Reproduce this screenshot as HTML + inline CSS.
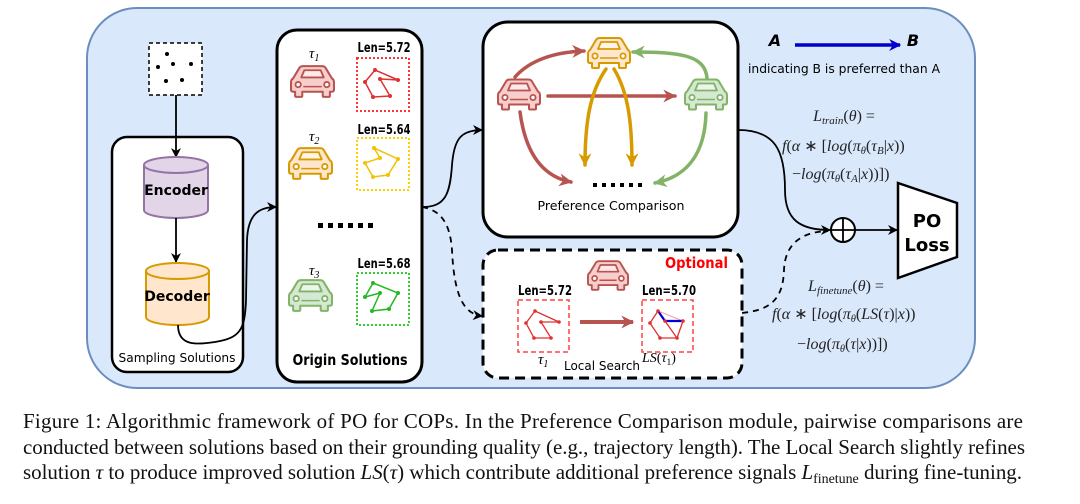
<!DOCTYPE html>
<html><head><meta charset="utf-8"><style>
html,body{margin:0;padding:0;background:#fff;}
svg{display:block;}
.lab{font-family:"DejaVu Sans","Liberation Sans",sans-serif;}
.m{font-family:"Liberation Serif",serif;font-style:italic;}
</style></head><body>
<svg width="1080" height="504" viewBox="0 0 1080 504" xmlns="http://www.w3.org/2000/svg">
<defs>
<marker id="ak" viewBox="0 0 10 10" refX="9" refY="5" markerWidth="10" markerHeight="10" markerUnits="userSpaceOnUse" orient="auto"><path d="M0,0 L10,5 L0,10 L3,5 z" fill="#000"/></marker>
<marker id="ar" viewBox="0 0 10 10" refX="9" refY="5" markerWidth="13" markerHeight="13" markerUnits="userSpaceOnUse" orient="auto"><path d="M0,0 L10,5 L0,10 L3,5 z" fill="#b85450"/></marker>
<marker id="ay" viewBox="0 0 10 10" refX="9" refY="5" markerWidth="13" markerHeight="13" markerUnits="userSpaceOnUse" orient="auto"><path d="M0,0 L10,5 L0,10 L3,5 z" fill="#d79b00"/></marker>
<marker id="ag" viewBox="0 0 10 10" refX="9" refY="5" markerWidth="13" markerHeight="13" markerUnits="userSpaceOnUse" orient="auto"><path d="M0,0 L10,5 L0,10 L3,5 z" fill="#82b366"/></marker>
<marker id="abl" viewBox="0 0 10 10" refX="9" refY="5" markerWidth="12" markerHeight="12" markerUnits="userSpaceOnUse" orient="auto"><path d="M0,0 L10,5 L0,10 L3,5 z" fill="#0000cc"/></marker>
<symbol id="car" viewBox="0 0 44 32">
<path d="M3,13 L9,3 Q10,1 13,1 L31,1 Q34,1 35,3 L41,13 Q43,14 43,17 L43,24 Q43,26 41,26 L39,26 L39,30 Q39,31 38,31 L33,31 Q32,31 32,30 L32,26 L12,26 L12,30 Q12,31 11,31 L6,31 Q5,31 5,30 L5,26 L3,26 Q1,26 1,24 L1,17 Q1,14 3,13 Z" stroke-width="2" stroke-linejoin="round"/>
<path d="M11,12 L14,5 L30,5 L33,12 Z" fill="#fff" fill-opacity="0.55" stroke-width="1.8" stroke-linejoin="round"/>
<circle cx="8" cy="19" r="2.6" fill="#fff" stroke-width="1.8"/>
<circle cx="36" cy="19" r="2.6" fill="#fff" stroke-width="1.8"/>
<path d="M13,21 L31,21" stroke-width="1.5" fill="none"/>
</symbol>
</defs>

<!-- outer -->
<rect x="87" y="8" width="888" height="380" rx="50" fill="#dae8fc" stroke="#6c8ebf" stroke-width="2"/>

<!-- input -->
<rect x="149" y="43" width="53" height="52" fill="#fff" stroke="#000" stroke-width="1.5" stroke-dasharray="4,3"/>
<g fill="#000"><circle cx="167" cy="54" r="2"/><circle cx="158" cy="67" r="2"/><circle cx="173" cy="64" r="2"/><circle cx="191" cy="64" r="2"/><circle cx="166" cy="81" r="2"/><circle cx="182" cy="80" r="2"/></g>

<!-- sampling box -->
<rect x="112" y="137" width="131" height="235" rx="15" fill="#fff" stroke="#000" stroke-width="2.5"/>
<path d="M176,95 L176,157" stroke="#000" stroke-width="1.8" fill="none" marker-end="url(#ak)"/>
<path d="M144,165 A32,8 0 0 1 208,165 L208,210 A32,8 0 0 1 144,210 Z" fill="#e1d5e7" stroke="#9673a6" stroke-width="2"/>
<path d="M144,165 A32,8 0 0 0 208,165" fill="none" stroke="#9673a6" stroke-width="2"/>
<text x="176" y="195" text-anchor="middle" class="lab" font-size="14" font-weight="bold">Encoder</text>
<path d="M176,218 L176,262" stroke="#000" stroke-width="1.8" fill="none" marker-end="url(#ak)"/>
<path d="M146,271 A31.5,8 0 0 1 209,271 L209,317 A31.5,8 0 0 1 146,317 Z" fill="#ffe6cc" stroke="#d79b00" stroke-width="2"/>
<path d="M146,271 A31.5,8 0 0 0 209,271" fill="none" stroke="#d79b00" stroke-width="2"/>
<text x="177" y="301" text-anchor="middle" class="lab" font-size="14" font-weight="bold">Decoder</text>
<path d="M178,325 C178,346 196,345 215,342 C240,338 245,330 246,300 L247,240 C248,215 258,207 276,207" stroke="#000" stroke-width="1.8" fill="none" marker-end="url(#ak)"/>
<text x="177" y="362" text-anchor="middle" class="lab" font-size="12.5" textLength="117" lengthAdjust="spacingAndGlyphs">Sampling Solutions</text>

<!-- origin solutions -->
<rect x="277" y="30" width="145" height="352" rx="20" fill="#fff" stroke="#000" stroke-width="3"/>
<use href="#car" x="290" y="65" width="45" height="33" fill="#f8cecc" stroke="#b85450"/>
<use href="#car" x="288" y="147" width="45" height="33" fill="#ffe6cc" stroke="#d79b00"/>
<use href="#car" x="288" y="279" width="45" height="33" fill="#d5e8d4" stroke="#82b366"/>
<text x="309" y="58" class="m" font-size="15">τ<tspan font-size="10" dy="3">1</tspan></text>
<text x="309" y="141" class="m" font-size="15">τ<tspan font-size="10" dy="3">2</tspan></text>
<text x="309" y="275" class="m" font-size="15">τ<tspan font-size="10" dy="3">3</tspan></text>
<g class="lab" font-size="13" font-weight="bold" text-anchor="middle">
<text x="384" y="52" textLength="53" lengthAdjust="spacingAndGlyphs">Len=5.72</text>
<text x="384" y="134" textLength="53" lengthAdjust="spacingAndGlyphs">Len=5.64</text>
<text x="384" y="268" textLength="53" lengthAdjust="spacingAndGlyphs">Len=5.68</text>
</g>
<rect x="357" y="58" width="52" height="53" fill="none" stroke="#ff3333" stroke-width="2" stroke-dasharray="2,2"/>
<polygon points="375,70 398,80 380,79 390,96 373,97 365,82" fill="none" stroke="#e03030" stroke-width="1.5"/>
<g fill="#e03030"><circle cx="375" cy="70" r="2"/><circle cx="398" cy="80" r="2"/><circle cx="380" cy="79" r="2"/><circle cx="390" cy="96" r="2"/><circle cx="373" cy="97" r="2"/><circle cx="365" cy="82" r="2"/></g>
<rect x="357" y="138" width="52" height="52" fill="none" stroke="#ffd000" stroke-width="2" stroke-dasharray="2,2"/>
<polygon points="374,148 380,158 365,163 373,177 388,175 398,159" fill="none" stroke="#f2c200" stroke-width="1.5"/>
<g fill="#f2c200"><circle cx="374" cy="148" r="2"/><circle cx="380" cy="158" r="2"/><circle cx="365" cy="163" r="2"/><circle cx="373" cy="177" r="2"/><circle cx="388" cy="175" r="2"/><circle cx="398" cy="159" r="2"/></g>
<rect x="357" y="273" width="52" height="52" fill="none" stroke="#33cc33" stroke-width="2" stroke-dasharray="2,2"/>
<polygon points="373,283 398,293 389,309 372,311 380,293 365,297" fill="none" stroke="#22b822" stroke-width="1.5"/>
<g fill="#22b822"><circle cx="373" cy="283" r="2"/><circle cx="398" cy="293" r="2"/><circle cx="389" cy="309" r="2"/><circle cx="372" cy="311" r="2"/><circle cx="380" cy="293" r="2"/><circle cx="365" cy="297" r="2"/></g>
<g fill="#000"><rect x="318" y="223" width="5" height="5"/><rect x="328" y="223" width="5" height="5"/><rect x="338" y="223" width="5" height="5"/><rect x="348" y="223" width="5" height="5"/><rect x="358" y="223" width="5" height="5"/><rect x="368" y="223" width="5" height="5"/></g>
<text x="350" y="365" text-anchor="middle" class="lab" font-size="15" font-weight="bold" textLength="115" lengthAdjust="spacingAndGlyphs">Origin Solutions</text>

<!-- connectors from origin -->
<path d="M422,207 C445,207 450,195 452,165 C454,140 460,130 482,130" stroke="#000" stroke-width="1.8" fill="none" marker-end="url(#ak)"/>
<path d="M422,207 C440,210 450,222 452,250 C454,292 462,314 482,316" stroke="#000" stroke-width="1.8" fill="none" stroke-dasharray="6,5" marker-end="url(#ak)"/>

<!-- preference comparison -->
<rect x="483" y="22" width="255" height="215" rx="25" fill="#fff" stroke="#000" stroke-width="3"/>
<g fill="none" stroke-width="3.5" stroke-linecap="round">
<path d="M515,77 C530,60 555,52 584,51" stroke="#b85450" marker-end="url(#ar)"/>
<path d="M548,96 L675,96" stroke="#b85450" marker-end="url(#ar)"/>
<path d="M520,112 C525,150 540,176 571,182" stroke="#b85450" marker-end="url(#ar)"/>
<path d="M606,69 C590,92 585,122 585,165" stroke="#d79b00" marker-end="url(#ay)"/>
<path d="M614,69 C628,92 632,122 632,165" stroke="#d79b00" marker-end="url(#ay)"/>
<path d="M707,78 C705,55 680,52 633,52" stroke="#82b366" marker-end="url(#ag)"/>
<path d="M706,113 C705,150 690,176 655,183" stroke="#82b366" marker-end="url(#ag)"/>
</g>
<use href="#car" x="497" y="78" width="44" height="33" fill="#f8cecc" stroke="#b85450"/>
<use href="#car" x="587" y="37" width="44" height="32" fill="#ffe6cc" stroke="#d79b00"/>
<use href="#car" x="684" y="78" width="44" height="33" fill="#d5e8d4" stroke="#82b366"/>
<g fill="#000"><rect x="593" y="183" width="4" height="4"/><rect x="602" y="183" width="4" height="4"/><rect x="611" y="183" width="4" height="4"/><rect x="620" y="183" width="4" height="4"/><rect x="629" y="183" width="4" height="4"/><rect x="638" y="183" width="4" height="4"/></g>
<text x="611" y="210" text-anchor="middle" class="lab" font-size="12" textLength="147" lengthAdjust="spacingAndGlyphs">Preference Comparison</text>

<!-- optional box -->
<rect x="483" y="250" width="259" height="128" rx="15" fill="#fff" stroke="#000" stroke-width="3" stroke-dasharray="10,6"/>
<text x="728" y="268" text-anchor="end" class="lab" font-size="15" font-weight="bold" fill="#ff0000" textLength="63" lengthAdjust="spacingAndGlyphs">Optional</text>
<use href="#car" x="587" y="260" width="42" height="31" fill="#f8cecc" stroke="#b85450"/>
<g class="lab" font-size="13" font-weight="bold" text-anchor="middle">
<text x="545" y="295" textLength="54" lengthAdjust="spacingAndGlyphs">Len=5.72</text>
<text x="669" y="295" textLength="54" lengthAdjust="spacingAndGlyphs">Len=5.70</text>
</g>
<rect x="518" y="300" width="51" height="52" fill="none" stroke="#ff4444" stroke-width="1.5" stroke-dasharray="5,3"/>
<polygon points="535,311 559,322 541,322 551,338 534,338 526,323" fill="none" stroke="#e03030" stroke-width="1.3"/>
<g fill="#e03030"><circle cx="535" cy="311" r="1.8"/><circle cx="559" cy="322" r="1.8"/><circle cx="541" cy="322" r="1.8"/><circle cx="551" cy="338" r="1.8"/><circle cx="534" cy="338" r="1.8"/><circle cx="526" cy="323" r="1.8"/></g>
<path d="M580,322 L633,322" stroke="#b85450" stroke-width="4" fill="none" marker-end="url(#ar)"/>
<rect x="642" y="300" width="51" height="52" fill="none" stroke="#ff4444" stroke-width="1.5" stroke-dasharray="5,3"/>
<path d="M658,311 L683,321" stroke="#f4a0a0" stroke-width="1"/>
<path d="M658,311 L650,323 L660,338 L677,338 L683,321 M665,321 L677,338" fill="none" stroke="#e03030" stroke-width="1.3"/>
<path d="M658,311 L665,321 L683,321" fill="none" stroke="#0000dd" stroke-width="2.2"/>
<g fill="#e03030"><circle cx="658" cy="311" r="1.8"/><circle cx="683" cy="321" r="1.8"/><circle cx="677" cy="338" r="1.8"/><circle cx="660" cy="338" r="1.8"/><circle cx="650" cy="323" r="1.8"/><circle cx="665" cy="321" r="1.8"/></g>
<text x="538" y="364" class="m" font-size="15">τ<tspan font-size="10" dy="3">1</tspan></text>
<text x="602" y="370" text-anchor="middle" class="lab" font-size="12.5" textLength="76" lengthAdjust="spacingAndGlyphs">Local Search</text>
<text x="642" y="362" class="m" font-size="14">LS<tspan font-style="normal">(</tspan>τ<tspan font-size="9.5" dy="3" font-style="normal">1</tspan><tspan dy="-3" font-style="normal">)</tspan></text>

<!-- legend -->
<text x="775" y="46" text-anchor="middle" class="lab" font-size="16" font-weight="bold" font-style="italic">A</text>
<path d="M795,45 L900,45" stroke="#0000cc" stroke-width="3.5" fill="none" marker-end="url(#abl)"/>
<text x="913" y="46" text-anchor="middle" class="lab" font-size="16" font-weight="bold" font-style="italic">B</text>
<text x="844" y="73" text-anchor="middle" class="lab" font-size="12" textLength="192" lengthAdjust="spacingAndGlyphs">indicating B is preferred than A</text>

<!-- formulas -->
<g class="m" font-size="16" fill="#222">
<text x="844" y="121" text-anchor="middle">L<tspan font-size="11" dy="3">train</tspan><tspan dy="-3" font-style="normal">(</tspan>θ<tspan font-style="normal">) =</tspan></text>
<text x="782" y="151">f<tspan font-style="normal">(</tspan>α <tspan font-style="normal">∗ [</tspan>log<tspan font-style="normal">(</tspan>π<tspan font-size="10.5" dy="3">θ</tspan><tspan dy="-3" font-style="normal">(</tspan>τ<tspan font-size="11" dy="3">B</tspan><tspan dy="-3" font-style="normal">|</tspan>x<tspan font-style="normal">))</tspan></text>
<text x="792" y="179"><tspan font-style="normal">−</tspan>log<tspan font-style="normal">(</tspan>π<tspan font-size="10.5" dy="3">θ</tspan><tspan dy="-3" font-style="normal">(</tspan>τ<tspan font-size="11" dy="3">A</tspan><tspan dy="-3" font-style="normal">|</tspan>x<tspan font-style="normal">))])</tspan></text>
<text x="846" y="291" text-anchor="middle">L<tspan font-size="11" dy="3">finetune</tspan><tspan dy="-3" font-style="normal">(</tspan>θ<tspan font-style="normal">) =</tspan></text>
<text x="772" y="319">f<tspan font-style="normal">(</tspan>α <tspan font-style="normal">∗ [</tspan>log<tspan font-style="normal">(</tspan>π<tspan font-size="10.5" dy="3">θ</tspan><tspan dy="-3" font-style="normal">(</tspan>LS<tspan font-style="normal">(</tspan>τ<tspan font-style="normal">)|</tspan>x<tspan font-style="normal">))</tspan></text>
<text x="797" y="349"><tspan font-style="normal">−</tspan>log<tspan font-style="normal">(</tspan>π<tspan font-size="10.5" dy="3">θ</tspan><tspan dy="-3" font-style="normal">(</tspan>τ<tspan font-style="normal">|</tspan>x<tspan font-style="normal">))])</tspan></text>
</g>

<!-- connectors to sum -->
<path d="M738,130 C775,130 785,150 785,190 C785,220 800,230 830,230" stroke="#000" stroke-width="1.8" fill="none" marker-end="url(#ak)"/>
<path d="M742,313 C770,310 783,300 784,270 C785,245 800,232 828,231" stroke="#000" stroke-width="1.8" fill="none" stroke-dasharray="6,5"/>
<circle cx="843" cy="230" r="12" fill="#fff" stroke="#000" stroke-width="2"/>
<path d="M831,230 L855,230 M843,218 L843,242" stroke="#000" stroke-width="1.8"/>
<path d="M855,230 L897,230" stroke="#000" stroke-width="1.8" fill="none" marker-end="url(#ak)"/>
<polygon points="898,183 957,203 957,257 898,278" fill="#fff" stroke="#000" stroke-width="2.5"/>
<text x="927" y="227" text-anchor="middle" class="lab" font-size="18" font-weight="bold">PO</text>
<text x="927" y="251" text-anchor="middle" class="lab" font-size="18" font-weight="bold">Loss</text>

<!-- caption -->
<g font-family="'Liberation Serif',serif" font-size="21" fill="#111">
<text x="23" y="428" textLength="1000" lengthAdjust="spacing">Figure 1:  Algorithmic framework of PO for COPs.  In the Preference Comparison module, pairwise comparisons are</text>
<text x="23" y="454" textLength="1002" lengthAdjust="spacing">conducted between solutions based on their grounding quality (e.g., trajectory length). The Local Search slightly refines</text>
<text x="23" y="479" textLength="999" lengthAdjust="spacing">solution <tspan font-style="italic">τ</tspan> to produce improved solution <tspan font-style="italic">LS</tspan>(<tspan font-style="italic">τ</tspan>) which contribute additional preference signals <tspan font-style="italic">L</tspan><tspan font-size="14" dy="4">finetune</tspan><tspan dy="-4"> during fine-tuning.</tspan></text>
</g>
</svg>
</body></html>
